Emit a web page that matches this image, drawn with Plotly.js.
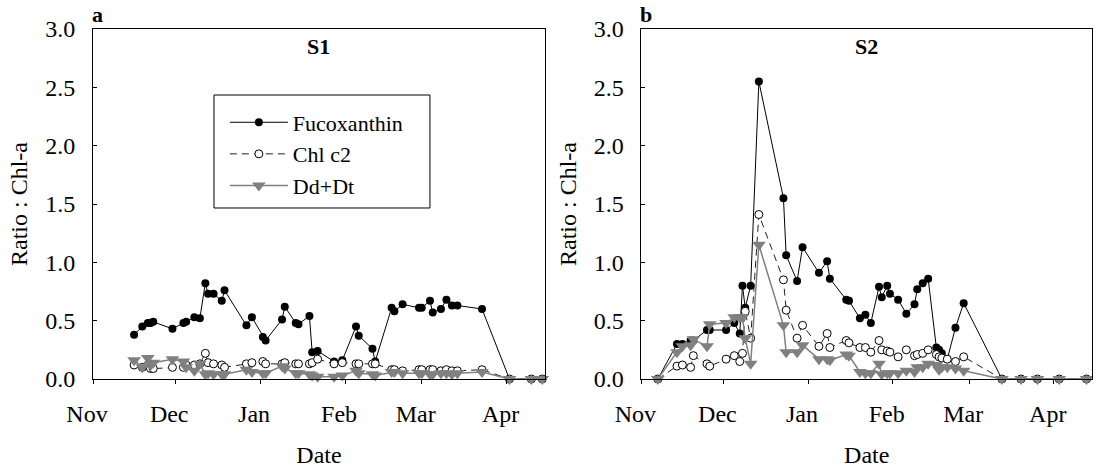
<!DOCTYPE html>
<html><head><meta charset="utf-8">
<script src="https://cdn.plot.ly/plotly-3.0.1.min.js"></script>
<style>html,body{margin:0;padding:0;background:#fff}#chart{width:1102px;height:475px}</style>
</head><body><div id="chart"></div>
<script>
const seriesNames = ['Fucoxanthin', 'Chl c2', 'Dd+Dt'];
const monthTicks = ['2010-11-01','2010-12-01','2011-01-01','2011-02-01','2011-03-01','2011-04-01'];
const monthLabels = ['Nov','Dec','Jan','Feb','Mar','Apr'];
const yTicks = [0, 0.5, 1, 1.5, 2, 2.5, 3];
const yLabels = ['0.0','0.5','1.0','1.5','2.0','2.5','3.0'];

// Panel a (S1)
const datesS1 = ['2010-11-16','2010-11-19','2010-11-21','2010-11-22','2010-11-23','2010-11-30','2010-12-04','2010-12-05','2010-12-08','2010-12-10','2010-12-12','2010-12-13','2010-12-15','2010-12-18','2010-12-19','2010-12-27','2010-12-29','2011-01-02','2011-01-03','2011-01-09','2011-01-10','2011-01-14','2011-01-15','2011-01-19','2011-01-20','2011-01-22','2011-01-28','2011-01-31','2011-02-05','2011-02-06','2011-02-11','2011-02-12','2011-02-18','2011-02-19','2011-02-22','2011-02-28','2011-03-01','2011-03-04','2011-03-05','2011-03-08','2011-03-10','2011-03-12','2011-03-14','2011-03-23','2011-04-02','2011-04-10','2011-04-14'];
const fucoS1 = [0.38,0.45,0.48,0.48,0.49,0.43,0.48,0.49,0.53,0.52,0.82,0.73,0.73,0.67,0.76,0.46,0.53,0.36,0.33,0.51,0.62,0.48,0.47,0.54,0.23,0.24,0.15,0.16,0.45,0.37,0.26,0.15,0.61,0.58,0.64,0.61,0.61,0.67,0.57,0.60,0.68,0.63,0.63,0.60,0,0,0];
const chlS1 = [0.12,0.10,0.12,0.09,0.09,0.10,0.10,0.12,0.12,0.13,0.22,0.14,0.13,0.12,0.10,0.13,0.14,0.15,0.13,0.13,0.14,0.13,0.13,0.13,0.14,0.17,0.13,0.14,0.13,0.13,0.13,0.13,0.08,0.08,0.07,0.08,0.08,0.08,0.08,0.07,0.08,0.07,0.07,0.08,0,0,0];
const ddS1 = [0.16,0.10,0.18,0.12,0.14,0.17,0.15,0.10,0.07,0.13,0.04,0.05,0.04,0.04,0.04,0.08,0.06,0.05,0.05,0.11,0.09,0.05,0.05,0.04,0.03,0.02,0.02,0.03,0.07,0.05,0.04,0.03,0.06,0.06,0.05,0.05,0.05,0.04,0.04,0.05,0.05,0.04,0.05,0.06,0,0,0];

// Panel b (S2)
const datesS2 = ['2010-11-07','2010-11-14','2010-11-16','2010-11-19','2010-11-20','2010-11-25','2010-11-26','2010-12-02','2010-12-05','2010-12-07','2010-12-08','2010-12-09','2010-12-11','2010-12-14','2010-12-23','2010-12-24','2010-12-28','2010-12-30','2011-01-05','2011-01-08','2011-01-09','2011-01-15','2011-01-16','2011-01-20','2011-01-22','2011-01-24','2011-01-27','2011-01-28','2011-01-30','2011-01-31','2011-02-03','2011-02-06','2011-02-09','2011-02-10','2011-02-12','2011-02-14','2011-02-17','2011-02-18','2011-02-19','2011-02-21','2011-02-24','2011-02-27','2011-03-13','2011-03-20','2011-03-26','2011-04-03','2011-04-13'];
const fucoS2 = [0,0.30,0.30,0.33,0.33,0.42,0.42,0.42,0.48,0.39,0.80,0.61,0.80,2.55,1.55,1.06,0.84,1.13,0.91,1.01,0.86,0.68,0.67,0.52,0.55,0.48,0.79,0.70,0.80,0.73,0.68,0.56,0.64,0.77,0.82,0.86,0.27,0.25,0.22,0.17,0.44,0.65,0,0,0,0,0];
const chlS2 = [0,0.11,0.12,0.10,0.20,0.13,0.11,0.17,0.20,0.15,0.22,0.58,0.35,1.41,0.85,0.59,0.35,0.46,0.28,0.39,0.27,0.33,0.31,0.27,0.27,0.23,0.33,0.25,0.24,0.23,0.19,0.25,0.20,0.21,0.22,0.25,0.21,0.19,0.18,0.17,0.15,0.19,0,0,0,0,0];
const ddS2 = [0,0.23,0.28,0.29,0.34,0.28,0.47,0.48,0.53,0.53,0.53,0.35,0.13,1.15,0.46,0.23,0.23,0.29,0.17,0.17,0.16,0.21,0.20,0.06,0.05,0.05,0.13,0.04,0.05,0.05,0.05,0.07,0.06,0.10,0.10,0.13,0.12,0.08,0.10,0.10,0.09,0.07,0,0,0,0,0];

const FONT = '"Liberation Serif", "Times New Roman", serif';
const styles = [
  {line:{color:'#000', width:1}, marker:{symbol:'circle', size:8, color:'#000', line:{width:0}}},
  {line:{color:'#222', width:1, dash:'7px,5px'}, marker:{symbol:'circle', size:8, color:'#fff', line:{color:'#000', width:1}}},
  {line:{color:'#808080', width:1.5}, marker:{symbol:'triangle-down', size:12, color:'#808080', line:{width:0}}}
];

function mk(x, y, i, xa, ya, show) {
  return {x:x, y:y, name:seriesNames[i], type:'scatter', mode:'lines+markers',
    xaxis:xa, yaxis:ya, showlegend:show, cliponaxis:false,
    line:styles[i].line, marker:styles[i].marker};
}

const data = [
  mk(datesS1, fucoS1, 0, 'x', 'y', true),
  mk(datesS1, chlS1, 1, 'x', 'y', true),
  mk(datesS1, ddS1, 2, 'x', 'y', true),
  mk(datesS2, fucoS2, 0, 'x2', 'y2', false),
  mk(datesS2, chlS2, 1, 'x2', 'y2', false),
  mk(datesS2, ddS2, 2, 'x2', 'y2', false)
];

const tf = {family:FONT, size:24, color:'#000'};
function xax(dom, anchor) {
  return {domain:dom, anchor:anchor, type:'date', range:['2010-11-01','2011-04-15'],
    tickmode:'array', tickvals:monthTicks, ticktext:monthLabels,
    ticks:'outside', ticklen:4, tickcolor:'#000', showline:true, linecolor:'#000', linewidth:1, mirror:true,
    showgrid:false, zeroline:false, tickfont:tf, ticklabelstandoff:9, ticklabelshift:-6,
    title:{text:'Date', font:tf, standoff:20}};
}
function yax(anchor) {
  return {domain:[0,1], anchor:anchor, range:[0,3],
    tickmode:'array', tickvals:yTicks, ticktext:yLabels,
    ticks:'inside', ticklen:4, tickcolor:'#000', showline:true, linecolor:'#000', linewidth:1, mirror:true,
    showgrid:false, zeroline:false, tickfont:tf, ticklabelstandoff:12,
    title:{text:'Ratio : Chl-a', font:tf, standoff:10}};
}

const bold = {family:FONT, size:22, color:'#000', weight:'bold'};
const layout = {
  width:1102, height:475,
  margin:{l:93, r:10, t:29, b:96},
  paper_bgcolor:'#fff', plot_bgcolor:'#fff',
  showlegend:true,
  xaxis:xax([0,0.4525],'y'),
  yaxis:yax('x'),
  xaxis2:xax([0.549,1],'y2'),
  yaxis2:yax('x2'),
  legend:{x:0.132, y:0.793, xanchor:'left', yanchor:'top', bgcolor:'rgba(0,0,0,0)',
    borderwidth:0, itemwidth:58, font:{family:FONT, size:22, color:'#000'}, tracegroupgap:0},
  shapes:[
    {type:'rect', xref:'paper', yref:'paper', x0:0.1211, x1:0.3373, y0:0.4886, y1:0.8114,
     line:{color:'#000', width:1}, fillcolor:'rgba(0,0,0,0)'}
  ],
  annotations:[
    {text:'<b>a</b>', xref:'paper', yref:'paper', x:0.005, y:1.04, showarrow:false, font:bold, xanchor:'center', yanchor:'middle'},
    {text:'<b>b</b>', xref:'paper', yref:'paper', x:0.554, y:1.04, showarrow:false, font:bold, xanchor:'center', yanchor:'middle'},
    {text:'<b>S1</b>', xref:'paper', yref:'paper', x:0.226, y:0.949, showarrow:false, font:bold, xanchor:'center', yanchor:'middle'},
    {text:'<b>S2</b>', xref:'paper', yref:'paper', x:0.7745, y:0.949, showarrow:false, font:bold, xanchor:'center', yanchor:'middle'}
  ]
};

Plotly.newPlot('chart', data, layout, {staticPlot:true, displayModeBar:false});
</script>
</body></html>
